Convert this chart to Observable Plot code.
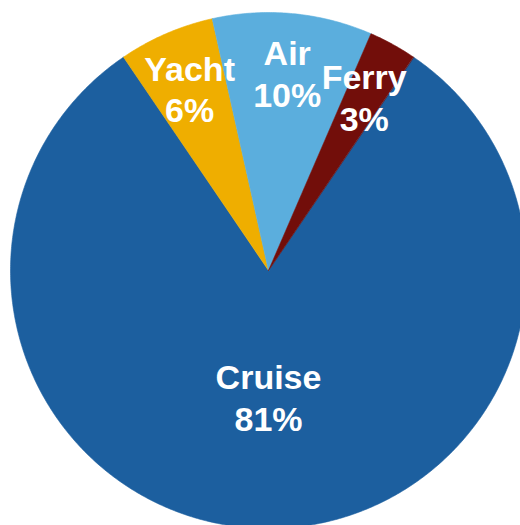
<!DOCTYPE html>
<html>
<head>
<meta charset="utf-8">
<script src="https://cdn.jsdelivr.net/npm/d3@7"></script>
<script src="https://cdn.jsdelivr.net/npm/@observablehq/plot@0.6"></script>
<style>
  html, body { margin: 0; padding: 0; background: #ffffff; }
  #chart { width: 520px; height: 525px; overflow: hidden; }
</style>
</head>
<body>
<div id="chart"></div>
<script>
// ---- data ----
const categories = ["Cruise", "Yacht", "Air", "Ferry"];
const shares = [81, 6, 10, 3];
const colors = ["#1c5f9f", "#efae00", "#5baedd", "#720e0a"];

// ---- layout ----
const W = 520, H = 525;
const cx = 268, cy = 270, R = 258;

// pie geometry (angles from 12 o'clock, clockwise); largest slice centred at bottom
const start = Math.PI * (1 - shares[0] / 100);
const arcs = d3.pie().sort(null).startAngle(start).endAngle(start + 2 * Math.PI)(shares);

// slice outlines in unit-circle data space
const slicePts = [];
arcs.forEach((a, i) => {
  slicePts.push({name: categories[i], x: 0, y: 0});
  const n = Math.max(2, Math.ceil((a.endAngle - a.startAngle) / (Math.PI / 360)));
  for (let k = 0; k <= n; k++) {
    const t = a.startAngle + (a.endAngle - a.startAngle) * k / n;
    slicePts.push({name: categories[i], x: Math.sin(t), y: Math.cos(t)});
  }
});

// labels
const labels = arcs.map((a, i) => {
  const mid = (a.startAngle + a.endAngle) / 2;
  const rr = shares[i] > 50 ? 0.49 : 0.77;
  return {name: categories[i], text: categories[i] + "\n" + shares[i] + "%",
          x: rr * Math.sin(mid), y: rr * Math.cos(mid)};
});

const chart = Plot.plot({
  width: W,
  height: H,
  margin: 0,
  style: {background: "#ffffff", overflow: "hidden"},
  x: {domain: [-1, 1], range: [cx - R, cx + R], axis: null},
  y: {domain: [-1, 1], range: [cy + R, cy - R], axis: null},
  color: {domain: categories, range: colors},
  marks: [
    Plot.line(slicePts, {
      x: "x", y: "y", z: "name",
      fill: "name", stroke: "name", strokeWidth: 0.6,
      curve: "linear-closed"
    }),
    Plot.text(labels, {
      x: "x", y: "y", text: "text",
      fill: "#ffffff",
      fontSize: 34,
      fontWeight: "bold",
      fontFamily: "'Liberation Sans', Arial, sans-serif",
      lineHeight: 1.23,
      textAnchor: "middle"
    })
  ]
});
document.getElementById("chart").appendChild(chart);
</script>
</body>
</html>
